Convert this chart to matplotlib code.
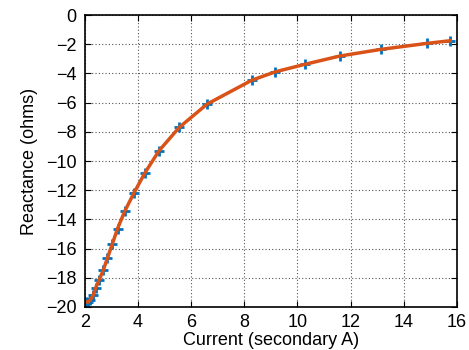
import matplotlib
matplotlib.use("Agg")
import matplotlib.pyplot as plt

# measured points (secondary current in A, reactance in ohms)
current = [2.04, 2.13, 2.21, 2.31, 2.41, 2.54, 2.69, 2.85, 3.03, 3.23, 3.50,
           3.85, 4.26, 4.79, 5.55, 6.60, 8.29, 9.17, 10.27, 11.59, 13.15,
           14.88, 15.75]
reactance = [-19.66, -19.66, -19.50, -19.20, -18.67, -18.13, -17.49, -16.64,
             -15.70, -14.63, -13.44, -12.18, -10.81, -9.30, -7.70, -6.10,
             -4.46, -3.89, -3.38, -2.81, -2.35, -1.94, -1.76]

plt.rcParams['font.family'] = ['Liberation Sans', 'DejaVu Sans']

fig = plt.figure(figsize=(4.69, 3.5), dpi=100)
ax = fig.add_axes([0.181, 0.123, 0.793, 0.834])

ax.plot(current, reactance, '+', color='#0072BD', markersize=7, markeredgewidth=2)
ax.plot(current, reactance, '-', color='#D95319', linewidth=2.5)

ax.set_xlim(2, 16)
ax.set_ylim(-20, 0)
ax.set_xticks(range(2, 17, 2))
ax.set_yticks(range(-20, 1, 2))
ax.grid(True, linestyle=(0, (1, 2)), color='#555555', linewidth=0.8)
ax.tick_params(direction='in', top=True, right=True, length=4, labelsize=13)
ax.tick_params(axis='x', pad=5)
ax.tick_params(axis='y', pad=6)
for s in ax.spines.values():
    s.set_linewidth(1.2)

ax.set_xlabel("Current (secondary A)", fontsize=13, labelpad=1)
ax.set_ylabel("Reactance (ohms)", fontsize=13, labelpad=6)

fig.savefig("out.png", dpi=100)
